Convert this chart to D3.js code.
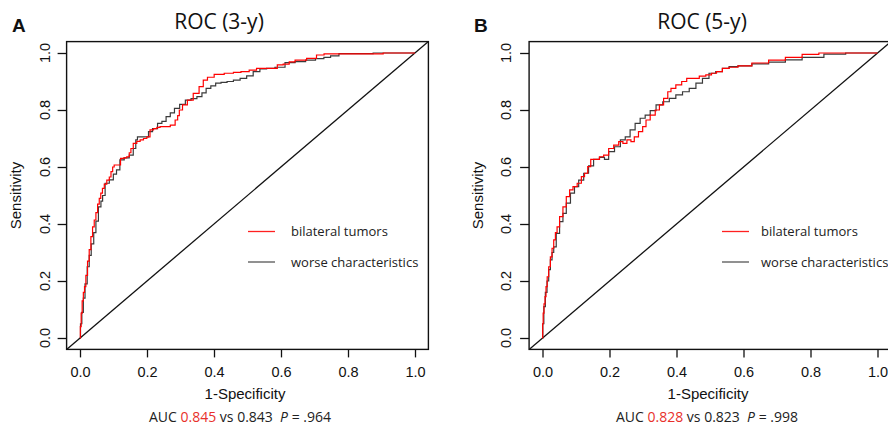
<!DOCTYPE html>
<html>
<head>
<meta charset="utf-8">
<script src="https://cdn.jsdelivr.net/npm/d3@7"></script>
<style>
html,body{margin:0;padding:0;background:#fff;}
svg{display:block;}
</style>
</head>
<body>
<svg id="chart" width="888" height="426"></svg>
<script>
// ---------------- data ----------------
const panelLetters = ["A", "B"];
const titles = ["ROC (3-y)", "ROC (5-y)"];
const seriesNames = ["bilateral tumors", "worse characteristics"];
const xTicks = [0, 0.2, 0.4, 0.6, 0.8, 1.0];
const yTicks = [0, 0.2, 0.4, 0.6, 0.8, 1.0];
const xLabel = "1-Specificity";
const yLabel = "Sensitivity";
const aucBilateral = ["0.845", "0.828"];
const aucWorse = ["0.843", "0.823"];
const pValues = [".964", ".998"];

// [1-specificity, sensitivity]
const rocA_bilateral = [[0,0],[0.002,0.04],[0.005,0.087],[0.008,0.13],[0.012,0.16],[0.015,0.18],[0.02,0.22],[0.025,0.27],[0.03,0.31],[0.035,0.356],[0.04,0.39],[0.045,0.414],[0.05,0.44],[0.055,0.47],[0.06,0.49],[0.064,0.508],[0.07,0.525],[0.075,0.54],[0.085,0.554],[0.09,0.565],[0.095,0.584],[0.1,0.6],[0.104,0.607],[0.115,0.607],[0.127,0.63],[0.135,0.632],[0.144,0.636],[0.15,0.65],[0.154,0.665],[0.164,0.683],[0.175,0.69],[0.184,0.695],[0.195,0.70],[0.204,0.706],[0.214,0.73],[0.225,0.735],[0.234,0.739],[0.244,0.742],[0.26,0.742],[0.279,0.747],[0.289,0.765],[0.294,0.78],[0.299,0.8],[0.313,0.818],[0.328,0.835],[0.348,0.858],[0.363,0.882],[0.373,0.905],[0.388,0.915],[0.413,0.925],[0.448,0.929],[0.468,0.932],[0.493,0.935],[0.517,0.94],[0.537,0.946],[0.567,0.946],[0.587,0.946],[0.591,0.958],[0.622,0.961],[0.627,0.969],[0.657,0.975],[0.696,0.981],[0.716,0.993],[0.741,0.997],[0.9,0.997],[0.91,1],[1,1]];
const rocA_worse = [[0,0],[0.003,0.05],[0.008,0.09],[0.012,0.14],[0.018,0.19],[0.025,0.25],[0.03,0.29],[0.037,0.33],[0.045,0.37],[0.05,0.41],[0.06,0.46],[0.065,0.48],[0.07,0.5],[0.08,0.543],[0.095,0.555],[0.104,0.575],[0.114,0.59],[0.124,0.625],[0.14,0.632],[0.154,0.642],[0.164,0.665],[0.169,0.695],[0.174,0.706],[0.2,0.706],[0.209,0.724],[0.224,0.735],[0.239,0.753],[0.25,0.76],[0.264,0.777],[0.275,0.79],[0.289,0.806],[0.306,0.82],[0.323,0.835],[0.34,0.84],[0.358,0.847],[0.37,0.86],[0.383,0.876],[0.398,0.885],[0.412,0.894],[0.43,0.897],[0.448,0.9],[0.468,0.905],[0.488,0.911],[0.507,0.92],[0.527,0.935],[0.547,0.944],[0.567,0.946],[0.597,0.95],[0.627,0.966],[0.657,0.97],[0.69,0.975],[0.716,0.98],[0.74,0.985],[0.756,0.99],[0.79,0.998],[0.96,1],[1,1]];
const rocB_bilateral = [[0,0],[0.001,0.05],[0.003,0.087],[0.006,0.12],[0.009,0.145],[0.012,0.18],[0.016,0.215],[0.021,0.25],[0.026,0.285],[0.031,0.315],[0.036,0.344],[0.041,0.37],[0.046,0.39],[0.056,0.426],[0.066,0.46],[0.076,0.496],[0.086,0.52],[0.096,0.531],[0.111,0.543],[0.121,0.566],[0.13,0.578],[0.14,0.601],[0.148,0.627],[0.165,0.627],[0.175,0.636],[0.19,0.642],[0.205,0.665],[0.22,0.677],[0.235,0.689],[0.245,0.683],[0.259,0.695],[0.269,0.689],[0.279,0.706],[0.294,0.724],[0.304,0.742],[0.314,0.765],[0.329,0.782],[0.344,0.8],[0.354,0.818],[0.369,0.841],[0.379,0.864],[0.388,0.876],[0.408,0.888],[0.423,0.9],[0.438,0.911],[0.458,0.911],[0.478,0.919],[0.497,0.923],[0.512,0.929],[0.527,0.935],[0.547,0.946],[0.567,0.95],[0.6,0.955],[0.65,0.965],[0.7,0.975],[0.75,0.985],[0.8,0.995],[0.85,1],[1,1]];
const rocB_worse = [[0,0],[0.002,0.05],[0.006,0.11],[0.011,0.16],[0.016,0.2],[0.021,0.24],[0.026,0.274],[0.031,0.3],[0.036,0.32],[0.046,0.367],[0.056,0.408],[0.066,0.437],[0.076,0.473],[0.091,0.508],[0.1,0.531],[0.116,0.554],[0.13,0.578],[0.145,0.604],[0.16,0.627],[0.18,0.634],[0.19,0.627],[0.205,0.654],[0.225,0.671],[0.24,0.695],[0.254,0.706],[0.269,0.73],[0.284,0.753],[0.299,0.771],[0.314,0.782],[0.329,0.798],[0.349,0.818],[0.369,0.829],[0.388,0.841],[0.408,0.853],[0.428,0.864],[0.448,0.876],[0.468,0.894],[0.487,0.911],[0.507,0.929],[0.527,0.935],[0.547,0.946],[0.567,0.952],[0.6,0.955],[0.65,0.962],[0.7,0.968],[0.75,0.976],[0.8,0.985],[0.88,0.996],[0.93,1],[1,1]];

const seriesColors = ["#ff0000", "#3a3a3a"];

// ---------------- layout ----------------
const panels = [
  {x0: 80, x1: 415, y0: 338, y1: 53, data: [rocA_bilateral, rocA_worse],
   letterX: 12, titleX: 219, xLabX: 245, aucX: 240, yTickX: 49.5, yLabX: 21,
   legLineX: 248, legTextX: 291},
  {x0: 542.5, x1: 877.5, y0: 338, y1: 53, data: [rocB_bilateral, rocB_worse],
   letterX: 474, titleX: 702, xLabX: 708, aucX: 707, yTickX: 510.5, yLabX: 483,
   legLineX: 722, legTextX: 761}
];

const svg = d3.select("#chart");
const tickFont = "'Liberation Sans', Arial, sans-serif";
const uiFont = "'Open Sans', 'Noto Sans', sans-serif";

panels.forEach((p, i) => {
  const x = d3.scaleLinear().domain([-0.04, 1.04]).range([p.x0 - 0.04 * (p.x1 - p.x0), p.x1 + 0.04 * (p.x1 - p.x0)]);
  const y = d3.scaleLinear().domain([-0.04, 1.04]).range([p.y0 + 0.04 * (p.y0 - p.y1), p.y1 - 0.04 * (p.y0 - p.y1)]);
  const [L, R] = x.range();
  const [B, T] = y.range();
  const g = svg.append("g");

  const clipId = "clip" + i;
  svg.append("defs").append("clipPath").attr("id", clipId)
    .append("rect").attr("x", L).attr("y", T).attr("width", R - L).attr("height", B - T);

  // diagonal reference
  g.append("line")
    .attr("clip-path", `url(#${clipId})`)
    .attr("x1", x(-0.04)).attr("y1", y(-0.04)).attr("x2", x(1.04)).attr("y2", y(1.04))
    .attr("stroke", "#111").attr("stroke-width", 1.3);

  // ROC curves (draw worse first, bilateral on top)
  const line = d3.line().x(d => x(d[0])).y(d => y(d[1])).curve(d3.curveStep);
  [1, 0].forEach(k => {
    g.append("path").datum(p.data[k])
      .attr("clip-path", `url(#${clipId})`)
      .attr("fill", "none").attr("stroke", seriesColors[k])
      .attr("stroke-width", 1.2).attr("stroke-linejoin", "miter")
      .attr("d", line);
  });

  // frame
  g.append("rect").attr("x", L).attr("y", T).attr("width", R - L).attr("height", B - T)
    .attr("fill", "none").attr("stroke", "#111").attr("stroke-width", 1.4);

  // x axis
  const xAxis = d3.axisBottom(x).tickValues(xTicks).tickFormat(d3.format(".1f")).tickSize(8).tickSizeOuter(0);
  const xg = g.append("g").attr("transform", `translate(0,${B})`).call(xAxis);
  xg.select(".domain").remove();
  xg.selectAll(".tick line").attr("stroke", "#111").attr("stroke-width", 1.3);
  xg.selectAll(".tick text").attr("y", 0).attr("dy", null)
    .attr("transform", "translate(0,28)")
    .style("font-family", tickFont).style("font-size", "14.5px").attr("fill", "#111");

  // y axis
  const yAxis = d3.axisLeft(y).tickValues(yTicks).tickFormat(d3.format(".1f")).tickSize(9).tickSizeOuter(0);
  const yg = g.append("g").attr("transform", `translate(${L},0)`).call(yAxis);
  yg.select(".domain").remove();
  yg.selectAll(".tick line").attr("stroke", "#111").attr("stroke-width", 1.3);
  yg.selectAll(".tick text").remove();
  yTicks.forEach(v => {
    g.append("text")
      .attr("transform", `translate(${p.yTickX},${y(v)}) rotate(-90)`)
      .attr("text-anchor", "middle")
      .style("font-family", tickFont).style("font-size", "14.5px").attr("fill", "#111")
      .text(d3.format(".1f")(v));
  });

  // axis labels
  g.append("text").attr("x", p.xLabX).attr("y", 399).attr("text-anchor", "middle")
    .style("font-family", tickFont).style("font-size", "15px").attr("fill", "#111").text(xLabel);
  g.append("text")
    .attr("transform", `translate(${p.yLabX},${(T + B) / 2}) rotate(-90)`)
    .attr("text-anchor", "middle")
    .style("font-family", tickFont).style("font-size", "15px").attr("fill", "#111").text(yLabel);

  // title and letter
  g.append("text").attr("x", p.titleX).attr("y", 28.5).attr("text-anchor", "middle")
    .style("font-family", uiFont).style("font-size", "21px").attr("fill", "#111").text(titles[i]);
  g.append("text").attr("x", p.letterX).attr("y", 32)
    .style("font-family", tickFont).style("font-size", "19px").style("font-weight", "bold")
    .attr("fill", "#111").text(panelLetters[i]);

  // legend
  const legY = [231.5, 262];
  seriesNames.forEach((name, k) => {
    g.append("line").attr("x1", p.legLineX).attr("x2", p.legLineX + 27)
      .attr("y1", legY[k]).attr("y2", legY[k])
      .attr("stroke", k === 0 ? "#ff2020" : "#555").attr("stroke-width", 1.3);
    g.append("text").attr("x", p.legTextX).attr("y", legY[k] + 4.5)
      .style("font-family", uiFont).style("font-size", "13px").attr("fill", "#222").text(name);
  });

  // AUC line
  const t = g.append("text").attr("x", p.aucX).attr("y", 421.5).attr("text-anchor", "middle")
    .style("font-family", uiFont).style("font-size", "14px").attr("fill", "#222");
  t.append("tspan").text("AUC ");
  t.append("tspan").attr("fill", "#e8302a").text(aucBilateral[i]);
  t.append("tspan").text(" vs " + aucWorse[i] + "\u00a0\u00a0");
  t.append("tspan").style("font-style", "italic").text("P");
  t.append("tspan").text(" = " + pValues[i]);
});
</script>
</body>
</html>
